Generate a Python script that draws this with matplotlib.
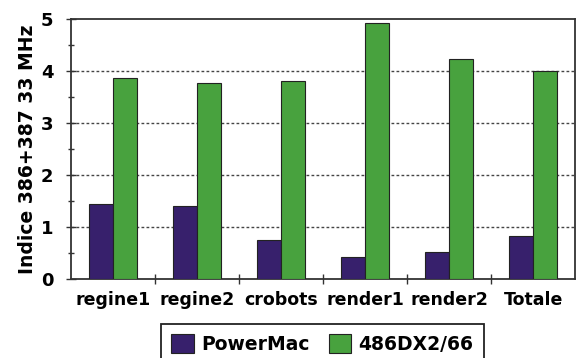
import matplotlib
matplotlib.use('Agg')
from matplotlib import pyplot as plt
from matplotlib.ticker import MultipleLocator
import numpy as np

plt.rcParams['font.family'] = 'DejaVu Sans'
plt.rcParams['font.weight'] = 'bold'
plt.rcParams['axes.labelweight'] = 'bold'

categories = ['regine1', 'regine2', 'crobots', 'render1', 'render2', 'Totale']
powermac = [1.44, 1.40, 0.74, 0.42, 0.52, 0.83]
dx2_66 = [3.87, 3.77, 3.81, 4.92, 4.23, 4.00]
series_names = ['PowerMac', '486DX2/66']

purple = '#37206c'
green = '#48a23e'

fig = plt.figure(figsize=(5.81, 3.58), dpi=100)
ax = fig.add_axes([0.122, 0.221, 0.868, 0.726])

x = np.arange(len(categories))
w = 0.286
ax.bar(x - w / 2, powermac, w, color=purple, edgecolor='#222222', linewidth=0.8,
       label=series_names[0], zorder=3)
ax.bar(x + w / 2, dx2_66, w, color=green, edgecolor='#222222', linewidth=0.8,
       label=series_names[1], zorder=3)

ax.set_xlim(-0.5, len(categories) - 0.5)
ax.set_ylim(0, 5)

# grid dotted at 1..4
for v in range(1, 5):
    ax.axhline(v, color='#444444', linestyle=(0, (2, 1.6)), linewidth=1, zorder=1)

ax.yaxis.set_major_locator(MultipleLocator(1))
ax.yaxis.set_minor_locator(MultipleLocator(0.5))
ax.tick_params(axis='y', which='major', direction='inout', length=7, width=1,
               labelsize=13, pad=9, color='#333333')
ax.tick_params(axis='y', which='minor', direction='inout', length=5, width=1,
               color='#333333')

# category labels centred, tick marks on the boundaries
ax.set_xticks(np.arange(0.5, len(categories) - 0.5, 1))
ax.set_xticklabels([])
ax.set_xticks(x, minor=True)
ax.set_xticklabels(categories, minor=True, fontsize=12.5)
ax.tick_params(axis='x', which='major', direction='inout', length=7, width=1,
               color='#333333')
ax.tick_params(axis='x', which='minor', length=0, pad=9)

for s in ax.spines.values():
    s.set_color('#333333')
    s.set_linewidth(1.3)

ax.set_ylabel('Indice 386+387 33 MHz', fontsize=13.5, labelpad=3)

leg = fig.legend(loc='upper center', bbox_to_anchor=(0.555, 0.096), ncol=2,
                 fontsize=13.5, frameon=True, fancybox=False, framealpha=1,
                 edgecolor='#222222', handlelength=1.2, handleheight=1.15,
                 handletextpad=0.4, columnspacing=1.0, borderpad=0.55,
                 borderaxespad=0)
leg.get_frame().set_linewidth(1.3)

fig.savefig('out.png', dpi=100)
